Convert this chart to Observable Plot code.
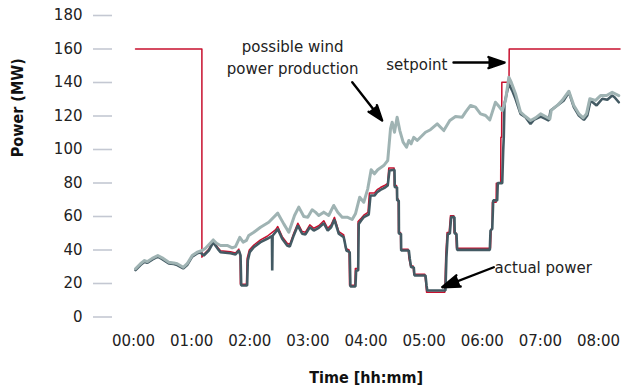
<!DOCTYPE html>
<html>
<head>
<meta charset="utf-8">
<script src="https://cdn.jsdelivr.net/npm/d3@7"></script>
<script src="https://cdn.jsdelivr.net/npm/@observablehq/plot@0.6"></script>
<style>
  html, body { margin: 0; padding: 0; background: #fff; }
  #chart { width: 644px; height: 392px; }
</style>
</head>
<body>
<div id="chart"></div>
<script>
// time in minutes since 00:00, power in MW
const possible = [[2.1,28.8],[7.2,31.8],[11.4,33.7],[14.1,33],[19.3,35],[25.1,36.7],[29.6,35.3],[36.4,32.7],[41.6,32.3],[45.1,31.8],[51.3,29.7],[55.4,31.8],[60.6,36.7],[65.7,38.7],[70.9,39.7],[74.3,41],[78.7,43.7],[82.3,46],[85.7,44],[89.8,42.7],[96.7,42.7],[101.9,41.3],[105.3,42],[109.7,47.6],[113.2,44.7],[116.6,45.7],[119,48.7],[124.2,50.6],[131.1,53.6],[139.6,56.6],[148.9,62],[155.1,55.6],[160.3,50.6],[166.2,60.6],[170.6,65.6],[175.8,60],[179.9,59.6],[184.4,64],[187.8,62.6],[191.2,60.6],[196.4,62.6],[201.5,60.6],[206.7,66.6],[210.8,62.6],[215.4,59.6],[220.5,59.6],[225.7,58.2],[229.1,61.6],[233.5,71.5],[237.7,68.5],[241.8,76.5],[245.3,87.9],[248.7,85.5],[252.1,87.9],[258.3,90.4],[262.4,93.4],[265.3,112.4],[267,116.3],[269.4,110.3],[272.1,119.3],[274.9,111.3],[278.3,104.4],[281.8,101.4],[284.2,105.4],[286.6,103.4],[289.3,107.3],[292.8,105.4],[296.2,107.3],[301.4,110.3],[306.5,111.8],[313.5,115.3],[320.3,111.3],[326.5,117.3],[332.4,119.7],[339.3,119.3],[342.7,122.3],[347.9,126.3],[353,125.3],[358.2,121.3],[363.4,120.3],[367.8,117.7],[373.6,128.2],[376.5,126.3],[380.6,123.3],[384,129.3],[387.4,143.2],[389.9,140.2],[394.3,133.3],[399.5,122.3],[404.6,119.7],[409.8,117.3],[415,118.9],[420.2,121.3],[425.3,119.7],[429.8,118.3],[431.2,123.3],[437.4,126.3],[442.5,129.3],[449.4,134.8],[454.5,126.3],[459.7,121.3],[464.2,118.9],[467.6,121.3],[471,130.3],[476.9,129.3],[482.1,132.2],[488.3,132.2],[494.1,134.2],[500.9,132.2]];

const actual = [[2.1,28],[7.2,31],[11.4,33],[14.1,32.3],[19.3,34.3],[25.1,36],[29.6,34.6],[36.4,32],[41.6,31.6],[45.1,31],[51.3,29],[55.4,31],[60.6,36],[65.7,38],[69.1,38.5],[72.6,36.7],[77.7,39.7],[82.3,44.5],[87,40.7],[89.8,38.7],[100.1,38.1],[105.3,37.3],[108.7,39.7],[110.5,36.7],[111.2,18.8],[117.3,18.8],[118,33.7],[120,38.7],[124.2,41.7],[131.1,44.7],[138,46.7],[142.9,48.3],[143.2,27.8],[143.6,48.5],[146.5,50.6],[148.9,52.6],[153.5,46.7],[158.6,42.7],[161.3,42],[165.4,48.7],[169.6,54.6],[174.1,49.7],[177.5,49.3],[182,53.6],[186.1,51.6],[191.2,53.2],[196.4,56],[200.5,51.6],[204,53.6],[207.4,58.2],[211.9,49.7],[217,47.6],[219.8,39.7],[223.2,38.7],[223.9,18.2],[229.1,18.2],[229.8,27.8],[231.9,27.8],[232.5,55.6],[235,57.6],[237.7,59.6],[242.8,61.2],[244.6,72.5],[248.7,72.5],[251.5,74.5],[254.9,75.9],[259,77.1],[262.4,78.5],[264.2,87.5],[269.4,87.9],[269.7,77.5],[272,77.5],[272.2,69.6],[273.8,69.6],[274,49.7],[276.1,49.7],[276.3,39.7],[284.2,39.7],[285.2,34.7],[286.6,29.7],[289.3,29.7],[290,24.8],[301.4,24.8],[302.5,18.8],[303.2,15.8],[322,15.8],[323,35.7],[324.4,49.7],[326.5,49.7],[327.9,59.6],[331.3,59.6],[331.6,49.7],[333.4,49.7],[334.1,40.1],[367.8,40.1],[368.5,51.6],[370.3,52.6],[371.3,69.6],[375.4,69.6],[376,79.9],[380.6,79.9],[381.6,99.4],[382.2,107.3],[382.9,127.3],[387.4,139.2],[390.9,135.2],[394.3,130.3],[399.5,121.3],[404.6,119.3],[409.8,115.3],[413.2,117.7],[420.2,119.7],[425.3,118.3],[428.7,117.3],[430.5,123.3],[437.4,126.3],[444.2,129.3],[449.4,134.2],[454.5,125.3],[459.7,120.3],[464.9,117.7],[468.4,120.3],[471.8,129.3],[478,126.3],[483.9,130.3],[489.1,129.7],[494.1,132.2],[496.5,131.2],[500.9,128.2]];

const setpoint = [[2.1,160],[70.6,160],[70.6,35.7],[72.6,37.5],[77.7,40.5],[82.3,45.5],[87,41.5],[89.8,39.5],[100.1,39],[105.3,38.2],[108.7,40.5],[110,37.5],[110.3,19.5],[116.6,19.5],[117.3,35],[119.5,40],[124.2,43],[131.1,46],[138,48.2],[146.5,52],[148.9,54],[153.5,48],[158.6,44],[161.3,43.3],[165.4,50],[169.6,56],[174.1,51],[177.5,50.6],[182,55],[186.1,53],[191.2,54.5],[196.4,57.5],[200.5,53],[204,55],[207.4,59.5],[211.9,51],[217,49],[219,41],[222.5,40],[223,19],[228.5,19],[229,29],[231.5,29],[231.8,57],[235,59],[237.7,60.8],[242,62.5],[243.5,74],[248.7,74],[251.5,76],[254.9,77.3],[259,78.5],[262.4,79.8],[263.5,89],[269,89],[269.2,78.5],[271.5,78.5],[271.7,70.5],[273.3,70.5],[273.5,50.5],[275.6,50.5],[275.8,40.5],[283.5,40.5],[284.2,35.5],[285.9,30.5],[288.6,30.5],[289.3,25.5],[300.7,25.5],[301.8,19.5],[302.5,14.8],[321.3,14.8],[322.3,36.5],[323.7,50.5],[325.8,50.5],[327.2,60.5],[330.6,60.5],[330.9,50.5],[332.7,50.5],[333.4,41],[368.5,41],[369.2,52.6],[370.2,52.6],[370.4,68.5],[374.3,68.5],[374.5,79.9],[379,79.9],[379.2,107.3],[380,107.3],[380.2,140.2],[387.6,140.2],[387.8,160],[502.2,160]];

const yTicks = [0, 20, 40, 60, 80, 100, 120, 140, 160, 180];
const xTicks = [0, 60, 120, 180, 240, 300, 360, 420, 480];
const xTickLabels = ["00:00","01:00","02:00","03:00","04:00","05:00","06:00","07:00","08:00"];

const notes = [
  {text: "possible wind\npower production", t: 164.3, mw: 155.9, anchor: "middle"},
  {text: "setpoint", t: 324.1, mw: 151.7, anchor: "end"},
  {text: "actual power", t: 372.7, mw: 30.7, anchor: "start"}
];
const arrows = [
  {t1: 225.8, mw1: 140.2, t2: 256.7, mw2: 117.3},
  {t1: 330.3, mw1: 151.9, t2: 383.0, mw2: 151.9},
  {t1: 371.9, mw1: 29.7, t2: 318.7, mw2: 17.8}
];

const toRows = (arr) => arr.map(([t, mw]) => ({t, mw}));
const noteMark = (anchor) => Plot.text(notes.filter((d) => d.anchor === anchor), {
  x: "t", y: "mw", text: "text", textAnchor: anchor, lineAnchor: "middle", lineHeight: 1.51, fontSize: 15, fill: "#222"
});

const chart = Plot.plot({
  width: 644,
  height: 392,
  marginTop: 15,
  marginBottom: 75.5,
  marginLeft: 112,
  marginRight: 26.6,
  insetLeft: 21,
  style: {fontFamily: "DejaVu Sans", fontSize: "15px", color: "#222", background: "#fff"},
  x: {domain: [0, 500], axis: null},
  y: {domain: [0, 180], axis: null},
  marks: [
    Plot.axisY({ticks: yTicks, tickSize: 19, tickPadding: 11, stroke: "#c4c8d2", strokeWidth: 1.6, fill: "#222", fontSize: 15, label: null}),
    Plot.axisX({ticks: xTicks, tickSize: 0, tickPadding: 18, fill: "#222", fontSize: 15, label: null,
      tickFormat: (d) => xTickLabels[xTicks.indexOf(d)]}),
    Plot.text(["Time [hh:mm]"], {frameAnchor: "bottom", dy: 66, dx: 1, fontFamily: "DejaVu Sans Condensed", fontWeight: "bold", fontSize: 16, fill: "#111"}),
    Plot.text(["Power (MW)"], {frameAnchor: "left", dx: -95, dy: -9, rotate: -90, fontFamily: "DejaVu Sans Condensed", fontWeight: "bold", fontSize: 16, fill: "#111"}),
    Plot.line(toRows(setpoint), {x: "t", y: "mw", stroke: "#c8102e", strokeWidth: 1.5}),
    Plot.line(toRows(actual), {x: "t", y: "mw", stroke: "#435a63", strokeWidth: 2.6, strokeLinejoin: "miter"}),
    Plot.line(toRows(possible), {x: "t", y: "mw", stroke: "#9fb3b3", strokeWidth: 3}),
    Plot.arrow(arrows, {x1: "t1", y1: "mw1", x2: "t2", y2: "mw2", stroke: "#000", strokeWidth: 2.4, headLength: 17, headAngle: 38}),
    noteMark("middle"),
    noteMark("end"),
    noteMark("start")
  ]
});
chart.querySelectorAll('g[aria-label="arrow"] path').forEach((p) => { p.setAttribute("fill", "#000"); p.setAttribute("stroke-linejoin", "miter"); });
document.getElementById("chart").appendChild(chart);
</script>
</body>
</html>
